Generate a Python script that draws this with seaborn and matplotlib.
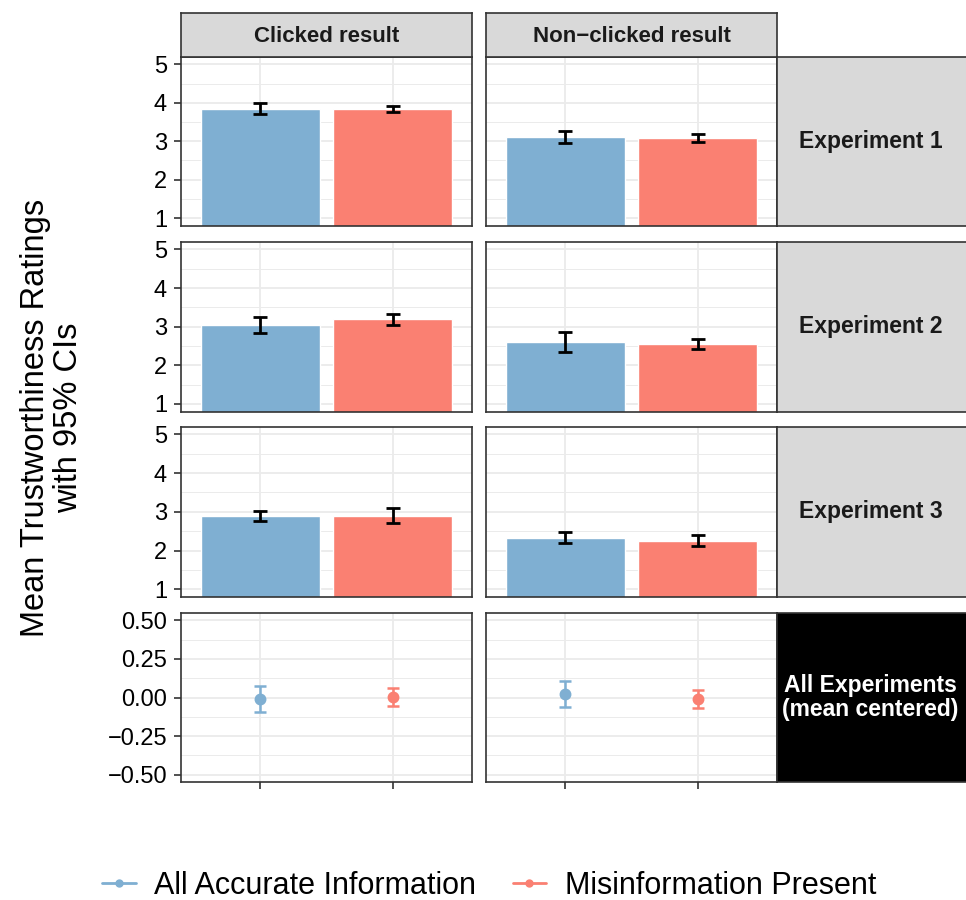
import matplotlib.pyplot as plt
import matplotlib.ticker as mticker
from matplotlib.lines import Line2D
import seaborn as sns
import pandas as pd

conditions = ["All Accurate Information", "Misinformation Present"]
col_labels = ["Clicked result", "Non\u2212clicked result"]
row_labels = ["Experiment 1", "Experiment 2", "Experiment 3",
              "All Experiments\n(mean centered)"]

# means and 95% CI half widths: [clicked, non-clicked] x [accurate, misinformation]
exp1_mean = [[3.85, 3.83], [3.11, 3.08]]
exp1_ci = [[0.145, 0.08], [0.145, 0.10]]
exp2_mean = [[3.04, 3.19], [2.60, 2.55]]
exp2_ci = [[0.21, 0.145], [0.25, 0.12]]
exp3_mean = [[2.90, 2.90], [2.33, 2.25]]
exp3_ci = [[0.13, 0.19], [0.145, 0.14]]
all_mean = [[-0.008, 0.006], [0.022, -0.008]]
all_ci = [[0.083, 0.058], [0.083, 0.059]]

bar_ticks = [1, 2, 3, 4, 5]
centered_ticks = [-0.5, -0.25, 0.0, 0.25, 0.5]

palette = {conditions[0]: "#7FAFD2", conditions[1]: "#FA8072"}

sns.set_theme(style="white")
plt.rcParams["font.family"] = ["Liberation Sans", "DejaVu Sans"]
plt.rcParams["text.color"] = "black"

W, H = 966, 900
fig = plt.figure(figsize=(W / 100, H / 100), dpi=100)


def px_axes(x0, y0, x1, y1):
    return fig.add_axes([x0 / W, 1 - y1 / H, (x1 - x0) / W, (y1 - y0) / H])


col_x = [(181, 472), (486, 777)]
row_y = [(56.7, 225.7), (241.7, 411.7), (426.7, 597.0), (612.7, 782.3)]
border = "#333333"
grid_col = "#EBEBEB"

bar_data = [(exp1_mean, exp1_ci), (exp2_mean, exp2_ci), (exp3_mean, exp3_ci)]


def style_panel(ax, row, col):
    ax.set_facecolor("white")
    for s in ax.spines.values():
        s.set_visible(True)
        s.set_color(border)
        s.set_linewidth(1.2)
    ax.set_axisbelow(True)
    ax.grid(True, which="major", color=grid_col, lw=1.3)
    ax.grid(True, which="minor", axis="y", color=grid_col, lw=0.7)
    ax.tick_params(which="minor", length=0)
    ax.tick_params(which="major", length=5, width=1.2, color=border,
                   labelsize=17, labelcolor="black", pad=5)
    ax.set_xlim(-0.6, 1.6)
    ax.set_xlabel("")
    ax.set_ylabel("")
    ax.set_xticks([0, 1])
    ax.set_xticklabels([])
    ax.tick_params(axis="x", bottom=(row == 3))
    ax.tick_params(axis="y", left=(col == 0), labelleft=(col == 0))


for r in range(4):
    for c in range(2):
        ax = px_axes(col_x[c][0], row_y[r][0], col_x[c][1], row_y[r][1])
        if r < 3:
            means, cis = bar_data[r]
            df = pd.DataFrame({"cond": conditions, "mean": means[c], "ci": cis[c]})
            sns.barplot(data=df, x="cond", y="mean", hue="cond", palette=palette,
                        saturation=1, width=0.9, errorbar=None, legend=False, ax=ax)
            ax.errorbar([0, 1], df["mean"], yerr=df["ci"], fmt="none",
                        ecolor="black", elinewidth=2.0, capsize=4.7,
                        capthick=2.0, zorder=5)
            ax.set_ylim(0.8, 5.2)
            ax.set_yticks(bar_ticks)
            ax.yaxis.set_minor_locator(mticker.MultipleLocator(0.5))
        else:
            df = pd.DataFrame({"cond": conditions, "mean": all_mean[c], "ci": all_ci[c]})
            sns.pointplot(data=df, x="cond", y="mean", hue="cond", palette=palette,
                          errorbar=None, markers="o", linestyles="none",
                          markersize=6.5, legend=False, ax=ax)
            for i, cond in enumerate(conditions):
                ax.errorbar([i], [df["mean"][i]], yerr=[df["ci"][i]], fmt="none",
                            ecolor=palette[cond], elinewidth=1.8, capsize=4.3,
                            capthick=1.8, zorder=4)
            ax.set_ylim(-0.55, 0.55)
            ax.set_yticks(centered_ticks)
            ax.yaxis.set_major_formatter(mticker.FuncFormatter(
                lambda v, p: f"{v:.2f}".replace("-", "\u2212")))
            ax.yaxis.set_minor_locator(mticker.MultipleLocator(0.125))
        style_panel(ax, r, c)

# column strips
for c in range(2):
    sa = px_axes(col_x[c][0], 13, col_x[c][1], 56.7)
    sa.set_facecolor("#D9D9D9")
    sa.set_xticks([])
    sa.set_yticks([])
    for s in sa.spines.values():
        s.set_visible(True)
        s.set_color(border)
        s.set_linewidth(1.2)
    sa.text(0.5, 0.47, col_labels[c], ha="center", va="center",
            fontsize=16, fontweight="bold", color="#1A1A1A", transform=sa.transAxes)

# row strips
for r in range(4):
    sa = px_axes(777, row_y[r][0], 968, row_y[r][1])
    dark = r == 3
    sa.set_facecolor("black" if dark else "#D9D9D9")
    sa.set_xticks([])
    sa.set_yticks([])
    for s in sa.spines.values():
        s.set_visible(True)
        s.set_color(border)
        s.set_linewidth(1.2)
    sa.text(0.49, 0.5, row_labels[r], ha="center", va="center", linespacing=1.05,
            fontsize=16.5, fontweight="bold", color="white" if dark else "#1A1A1A",
            transform=sa.transAxes)

fig.text(52 / W, 1 - 418 / H, "Mean Trustworthiness Ratings\nwith 95% CIs",
         rotation=90, ha="center", va="center", fontsize=23.5, linespacing=1.05,
         color="black")

handles = [Line2D([], [], color=palette[cond], lw=2, marker="o", markersize=5)
           for cond in conditions]
fig.legend(handles, conditions, loc="center", bbox_to_anchor=(489 / W, 1 - 886 / H),
           ncol=2, frameon=False, fontsize=22, handlelength=1.1,
           handletextpad=0.6, columnspacing=1.2, labelcolor="black")

fig.savefig("out.png", dpi=100)
plt.close(fig)
